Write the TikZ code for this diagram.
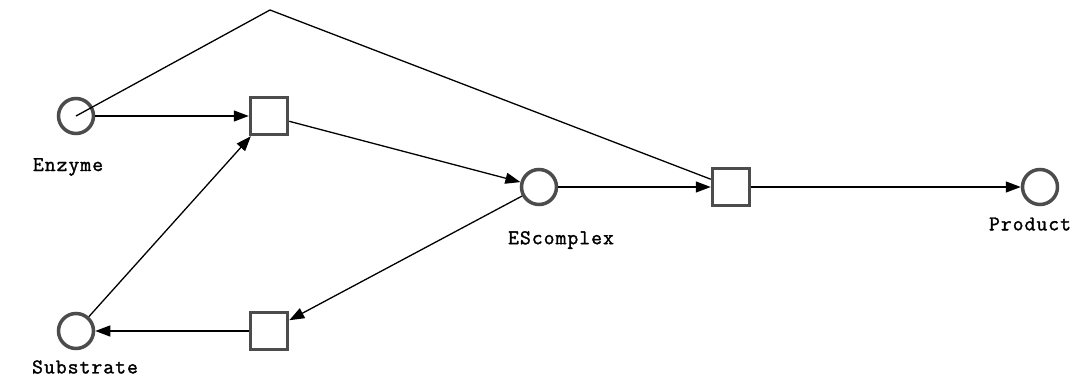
\documentclass[tikz,border=0pt]{standalone}
\usepackage{fontspec}
\newfontfamily\lblfont{Latin Modern Mono}[LetterSpace=5, FakeBold=1.5]
\usetikzlibrary{arrows.meta,positioning}

\begin{document}
\begin{tikzpicture}[
  x=1pt, y=-1pt,
  place/.style={draw=black!70, line width=3.5pt, circle, minimum size=35pt, inner sep=0pt},
  trans/.style={draw=black!70, line width=3.5pt, rectangle, minimum size=37pt, inner sep=0pt},
  lbl/.style={font=\lblfont\fontsize{21}{23}\selectfont},
  arc/.style={-{Triangle[length=15pt,width=11pt]}, line width=1.3pt}
]
\useasboundingbox (0,0) rectangle (1081,379);
% places
\node[place] (enz) at (76,116) {};
\node[place] (es) at (539,187) {};
\node[place] (prod) at (1040,187) {};
\node[place] (sub) at (76,331) {};
% transitions
\node[trans] (t1) at (269,116) {};
\node[trans] (t2) at (731,187) {};
\node[trans] (t3) at (269,331) {};
% labels
\node[lbl] (enzl) at (68,167) {Enzyme};
\node[lbl] (esl) at (561,240) {EScomplex};
\node[lbl] (prodl) at (1030,224) {Product};
\node[lbl] (subl) at (85,367) {Substrate};
% arcs
\coordinate (top) at (270,10);
\draw[line width=1.3pt] (enz.center) -- (top) -- (t2);
\draw[arc] (enz) -- (t1);
\draw[arc] (t1) -- (es);
\draw[arc] (es) -- (t2);
\draw[arc] (t2) -- (prod);
\draw[arc] (es) -- (t3);
\draw[arc] (t3) -- (sub);
\draw[arc] (sub) -- (t1);
\end{tikzpicture}
\end{document}
